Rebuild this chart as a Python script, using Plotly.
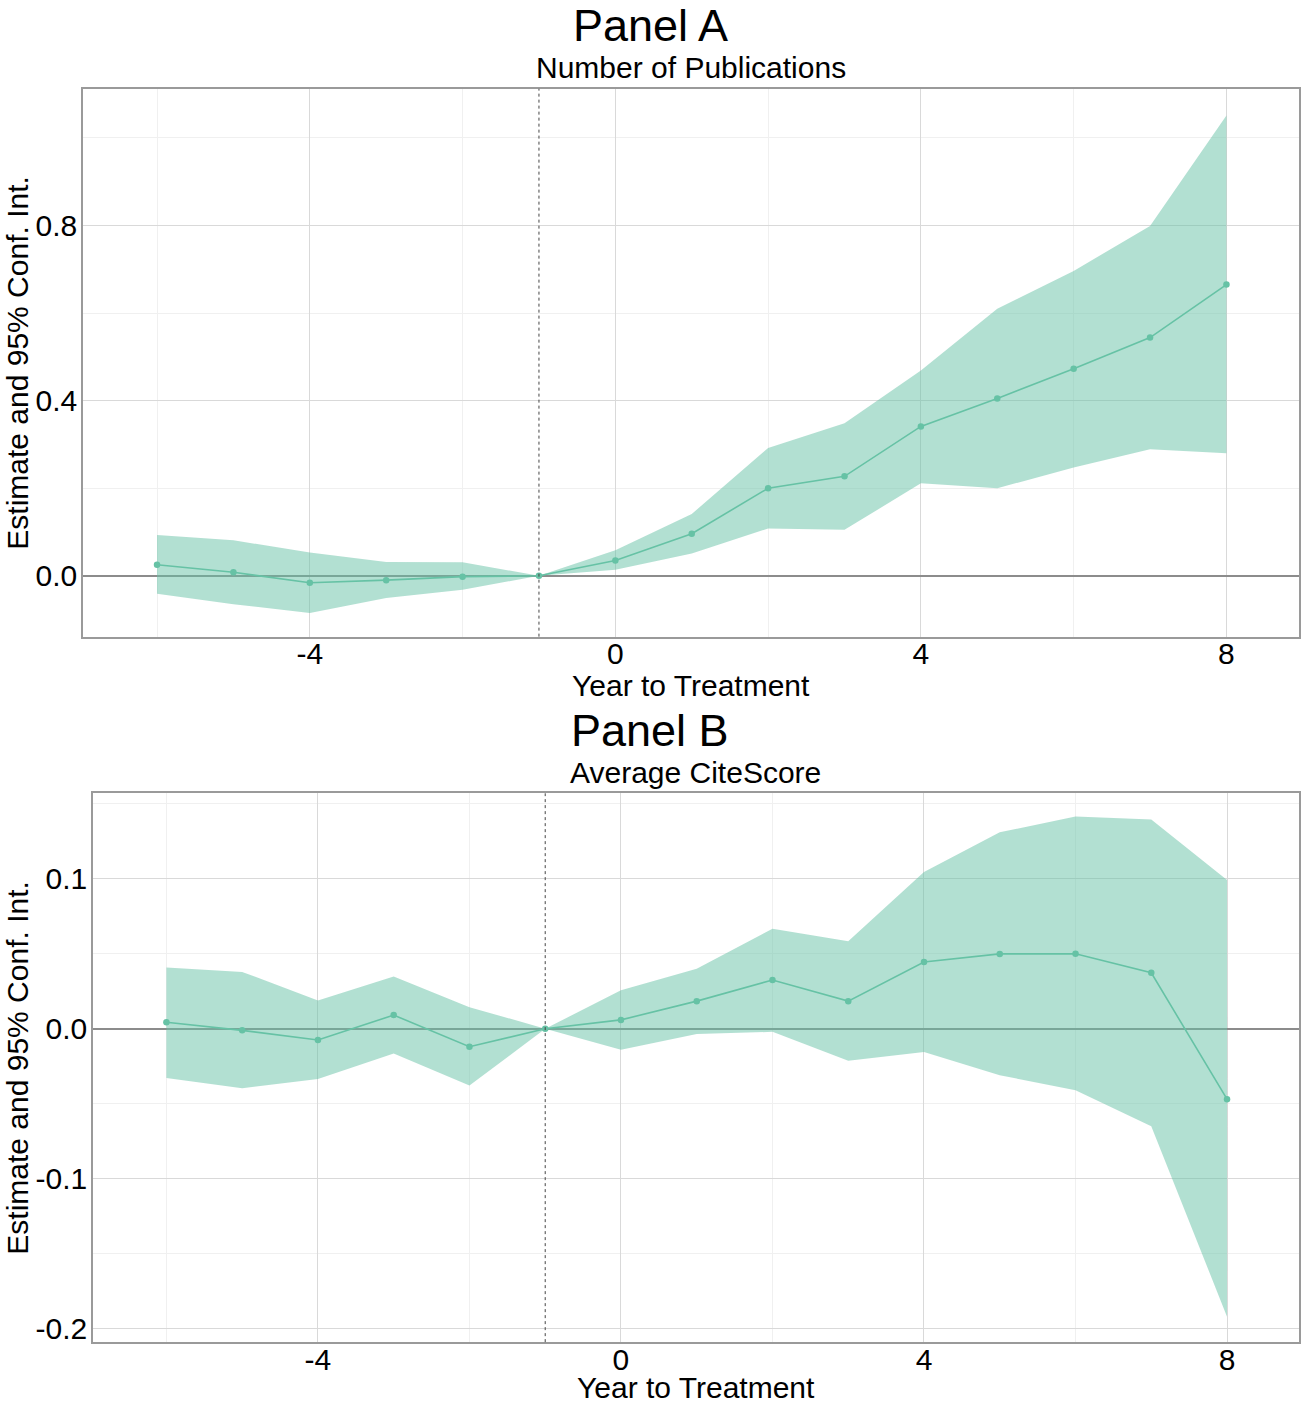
import plotly.graph_objects as go

# ---------------- data ----------------
years = [-6, -5, -4, -3, -2, -1, 0, 1, 2, 3, 4, 5, 6, 7, 8]

pubs_est = [0.025, 0.008, -0.016, -0.010, -0.002, 0.0, 0.035, 0.096, 0.200, 0.227, 0.341, 0.405, 0.473, 0.544, 0.665]
pubs_lo = [-0.041, -0.065, -0.085, -0.051, -0.032, 0.0, 0.014, 0.051, 0.108, 0.105, 0.211, 0.200, 0.247, 0.289, 0.280]
pubs_hi = [0.093, 0.081, 0.053, 0.0315, 0.0306, 0.0, 0.058, 0.141, 0.292, 0.348, 0.469, 0.610, 0.696, 0.799, 1.051]

cite_est = [0.0043, -0.0011, -0.0075, 0.0091, -0.012, 0.0, 0.0059, 0.0184, 0.0325, 0.0184, 0.0445, 0.0499, 0.050, 0.0373, -0.047]
cite_lo = [-0.0328, -0.0397, -0.0336, -0.0165, -0.0379, 0.0, -0.0141, -0.0035, -0.0021, -0.0213, -0.0155, -0.031, -0.041, -0.065, -0.192]
cite_hi = [0.0408, 0.0379, 0.0189, 0.0349, 0.0144, 0.0, 0.0256, 0.040, 0.0667, 0.0584, 0.1045, 0.131, 0.1416, 0.1395, 0.0992]

reference_year = -1
x_ticks = [-4, 0, 4, 8]
x_tick_labels = ["-4", "0", "4", "8"]
pubs_ticks = [0.0, 0.4, 0.8]
pubs_tick_labels = ["0.0", "0.4", "0.8"]
cite_ticks = [-0.2, -0.1, 0.0, 0.1]
cite_tick_labels = ["-0.2", "-0.1", "0.0", "0.1"]

panel_titles = ["Panel A", "Panel B"]
panel_subtitles = ["Number of Publications", "Average CiteScore"]
x_title = "Year to Treatment"
y_title = "Estimate and 95% Conf. Int."

# ---------------- style ----------------
W, H = 1301, 1405
FONT = "Liberation Sans, Arial, Helvetica, sans-serif"
LINE_COL = "#66c2a5"
FILL_COL = "rgba(102,194,165,0.5)"
GRID_MAJOR = "#d9d9d9"
GRID_MINOR = "#f0f0f0"
BORDER = "#9a9a9a"

def px_x(p):
    return p / W

def px_y(p):
    return 1 - p / H

fig = go.Figure()

panels = [
    dict(est=pubs_est, lo=pubs_lo, hi=pubs_hi, xa="x", ya="y",
         box=(83, 1300, 89, 638), yrange=[-0.139, 1.112], yticks=pubs_ticks,
         ylabels=pubs_tick_labels, ydt=0.2, xtitle_off=49),
    dict(est=cite_est, lo=cite_lo, hi=cite_hi, xa="x2", ya="y2",
         box=(93, 1300, 795, 1345), yrange=[-0.209, 0.157], yticks=cite_ticks,
         ylabels=cite_tick_labels, ydt=0.05, xtitle_off=45),
]

for i, p in enumerate(panels):
    fig.add_trace(go.Scatter(x=years, y=p["lo"], mode="lines", line=dict(width=0),
                             xaxis=p["xa"], yaxis=p["ya"], showlegend=False, hoverinfo="skip"))
    fig.add_trace(go.Scatter(x=years, y=p["hi"], mode="lines", line=dict(width=0),
                             fill="tonexty", fillcolor=FILL_COL,
                             xaxis=p["xa"], yaxis=p["ya"], showlegend=False, hoverinfo="skip"))
    fig.add_trace(go.Scatter(x=years, y=p["est"], mode="lines+markers",
                             line=dict(color=LINE_COL, width=1.6),
                             marker=dict(color=LINE_COL, size=6.5),
                             xaxis=p["xa"], yaxis=p["ya"], showlegend=False))

    l, r, t, b = p["box"]
    sfx = "" if i == 0 else str(i + 1)
    xaxis_cfg = dict(
        domain=[px_x(l), px_x(r)], anchor="y" + sfx, range=[-6.97, 8.95],
        tickvals=x_ticks, ticktext=x_tick_labels, ticks="",
        showgrid=True, gridcolor=GRID_MAJOR, gridwidth=1,
        minor=dict(tickvals=[-6, -2, 2, 6], showgrid=True, gridcolor=GRID_MINOR, gridwidth=1),
        zeroline=False, showline=True, mirror=True, linecolor=BORDER, linewidth=1.5,
        tickfont=dict(family=FONT, size=30, color="black"), ticklabelstandoff=-10,
    )
    yaxis_cfg = dict(
        domain=[px_y(b), px_y(t)], anchor="x" + sfx, range=p["yrange"],
        tickvals=p["yticks"], ticktext=p["ylabels"], ticks="",
        showgrid=True, gridcolor=GRID_MAJOR, gridwidth=1,
        minor=dict(dtick=p["ydt"], tick0=0, showgrid=True, gridcolor=GRID_MINOR, gridwidth=1),
        zeroline=True, zerolinecolor="#8c8c8c", zerolinewidth=1.8,
        showline=True, mirror=True, linecolor=BORDER, linewidth=1.5,
        tickfont=dict(family=FONT, size=30, color="black"), ticklabelstandoff=-2,
    )
    fig.update_layout(**{"xaxis" + sfx: xaxis_cfg, "yaxis" + sfx: yaxis_cfg})

    # vertical reference line at the omitted year
    fig.add_shape(type="line", xref=p["xa"], yref=p["ya"] + " domain",
                  x0=reference_year, x1=reference_year, y0=0, y1=1,
                  line=dict(color="#444444", width=1, dash="dot"), layer="above")

    cx = (l + r) / 2
    # panel title
    fig.add_annotation(text=panel_titles[i], xref="paper", yref="paper",
                       x=0.5, y=px_y(t - 63), xanchor="center", yanchor="middle",
                       showarrow=False, font=dict(family=FONT, size=45, color="black"))
    # subtitle
    fig.add_annotation(text=panel_subtitles[i], xref="paper", yref="paper",
                       x=px_x(cx), y=px_y(t - 21), xanchor="center", yanchor="middle",
                       showarrow=False, font=dict(family=FONT, size=30, color="black"))
    # x axis title
    fig.add_annotation(text=x_title, xref="paper", yref="paper",
                       x=px_x(cx), y=px_y(b + p["xtitle_off"]), xanchor="center", yanchor="middle",
                       showarrow=False, font=dict(family=FONT, size=30, color="black"))
    # y axis title
    fig.add_annotation(text=y_title, xref="paper", yref="paper",
                       x=px_x(18), y=px_y((t + b) / 2), xanchor="center", yanchor="middle",
                       textangle=-90, showarrow=False,
                       font=dict(family=FONT, size=30, color="black"))

fig.update_layout(
    width=W, height=H,
    margin=dict(l=0, r=0, t=0, b=0),
    paper_bgcolor="white", plot_bgcolor="white",
    showlegend=False,
)

fig.write_html("out.html")
